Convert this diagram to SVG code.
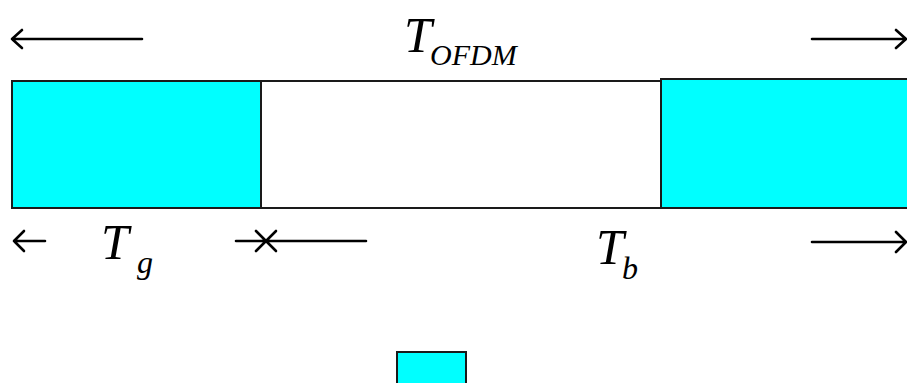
<svg xmlns="http://www.w3.org/2000/svg" width="907" height="383" viewBox="0 0 907 383">
<style>
.box{stroke:#1a1a1a;stroke-width:2}
.cy{fill:#00ffff}
.wh{fill:#ffffff}
.ln{stroke:#000;stroke-width:2.6;fill:none;stroke-linecap:round;stroke-linejoin:round}
.t{font-family:"Liberation Serif","Times New Roman",serif;font-style:italic;fill:#000}
.big{font-size:50px}
.sub{font-size:32px}
</style>
<rect width="907" height="383" fill="#fff"/>
<g id="mid-block"><rect class="box wh" x="261" y="81" width="400" height="127"/></g>
<g id="guard-left"><rect class="box cy" x="12" y="81" width="249" height="127"/></g>
<g id="guard-right"><rect class="box cy" x="661" y="79" width="250" height="129"/></g>
<g id="legend"><rect class="box cy" x="397" y="352" width="69" height="40"/></g>
<g id="connectors">
<path class="ln" d="M12 39H142M22 30L12 39L22 48"/>
<path class="ln" d="M812 39H906M896 30L906 39L896 48"/>
<path class="ln" d="M14 241H45M24 231L14 241L24 251"/>
<path class="ln" d="M236 241H266M256 231L266 241L256 251"/>
<path class="ln" d="M266 241H366M276 231L266 241L276 251"/>
<path class="ln" d="M812 242H906M896 232L906 242L896 252"/>
</g>
<g id="labels">
<text class="t big" x="404" y="52">T</text>
<text class="t" x="430" y="65" font-size="30">OFDM</text>
<text class="t big" x="101" y="259">T</text>
<text class="t sub" x="137" y="273">g</text>
<text class="t big" x="596" y="264">T</text>
<text class="t sub" x="622" y="279">b</text>
</g>
</svg>
